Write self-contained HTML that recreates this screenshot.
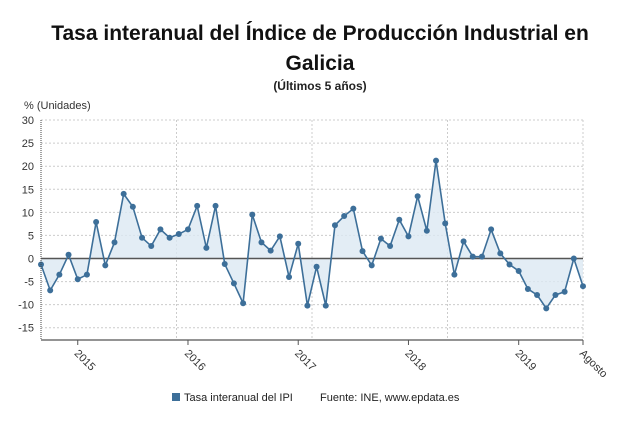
<!DOCTYPE html>
<html><head><meta charset="utf-8">
<style>
body{margin:0;background:#fff;width:640px;height:431px;overflow:hidden;font-family:"Liberation Sans",sans-serif;}
svg text{font-family:"Liberation Sans",sans-serif;}
</style></head>
<body>
<svg width="640" height="431" viewBox="0 0 640 431">
<text x="320" y="40" text-anchor="middle" font-size="21" font-weight="bold" fill="#111">Tasa interanual del Índice de Producción Industrial en</text>
<text x="320" y="70" text-anchor="middle" font-size="21" font-weight="bold" fill="#111">Galicia</text>
<text x="320" y="90" text-anchor="middle" font-size="12" font-weight="bold" fill="#222">(Últimos 5 años)</text>
<text x="24" y="109" font-size="11" fill="#333">% (Unidades)</text>
<g id="grid"></g>
<g id="plot"></g>
<g id="axes"></g>
<rect x="172" y="393" width="8" height="8" fill="#3d6f99"/>
<text x="184" y="401" font-size="11" fill="#222">Tasa interanual del IPI</text>
<text x="320" y="401" font-size="11" fill="#222">Fuente: INE, www.epdata.es</text>
</svg>
<script>
const values=[-1.3,-6.9,-3.5,0.8,-4.5,-3.5,7.9,-1.5,3.5,14.0,11.2,4.5,2.7,6.3,4.5,5.3,6.3,11.4,2.3,11.4,-1.2,-5.4,-9.7,9.5,3.5,1.7,4.8,-4.0,3.2,-10.2,-1.8,-10.2,7.2,9.2,10.8,1.6,-1.5,4.3,2.7,8.4,4.8,13.5,6.0,21.2,7.6,-3.5,3.7,0.4,0.4,6.3,1.1,-1.3,-2.7,-6.6,-7.9,-10.8,-7.9,-7.2,0.0,-6.0];
const yTicks=[30,25,20,15,10,5,0,-5,-10,-15];
const xLabels=["2015","2016","2017","2018","2019","Agosto"];
const xLabelIdx=[4,16,28,40,52,59];
const vGridIdx=[14.75,29.5,44.25,59];
const NS="http://www.w3.org/2000/svg";
const x0=41,x1=583,yTop=120,yBot=340;
const xs=i=>x0+i*(x1-x0)/(values.length-1);
const ys=v=>258.5-v*4.615;
function mk(t,a,p){const e=document.createElementNS(NS,t);for(const k in a)e.setAttribute(k,a[k]);p.appendChild(e);return e;}
const grid=document.getElementById('grid'),plot=document.getElementById('plot'),axes=document.getElementById('axes');
yTicks.forEach(v=>{
 const l=mk('line',{x1:x0,x2:x1,y1:ys(v),y2:ys(v),stroke:'#ccc','stroke-dasharray':'2,2'},grid);
 
 
 const t=mk('text',{x:34,y:ys(v)+4,'text-anchor':'end','font-size':11,fill:'#333'},axes);
 t.textContent=v;
 
 
});
vGridIdx.forEach(i=>{
 const l=mk('line',{x1:xs(i),x2:xs(i),y1:yTop,y2:yBot,stroke:'#ccc','stroke-dasharray':'2,2'},grid);
 
 
});
let d='M'+xs(0)+','+ys(0);
values.forEach((v,i)=>{d+=' L'+xs(i)+','+ys(v);});
d+=' L'+xs(values.length-1)+','+ys(0)+'Z';
const area=mk('path',{d:d,fill:'#dce8f2',opacity:0.8},plot);


const zl=mk('line',{x1:x0,x2:x1,y1:ys(0),y2:ys(0),stroke:'#555','stroke-width':1.5},plot);


const ln=mk('polyline',{points:values.map((v,i)=>xs(i)+','+ys(v)).join(' '),fill:'none',stroke:'#3d6f99','stroke-width':1.6},plot);


values.forEach((v,i)=>{
 const c=mk('circle',{cx:xs(i),cy:ys(v),r:3,fill:'#3d6f99'},plot);
 
 
});
const ya=mk('line',{x1:x0,x2:x0,y1:yTop,y2:yBot,stroke:'#444','stroke-dasharray':'1,1'},axes);


const xa=mk('line',{x1:x0,x2:x1,y1:yBot,y2:yBot,stroke:'#555','stroke-width':1.2},axes);


xLabels.forEach((s,k)=>{
 const x=xs(xLabelIdx[k]);
 const tk=mk('line',{x1:x,x2:x,y1:yBot,y2:yBot+5,stroke:'#555'},axes);
 
 
 const t=mk('text',{x:x-4,y:yBot+14,'font-size':11,fill:'#333',transform:`rotate(45 ${x-4} ${yBot+14})`},axes);
 t.textContent=s;
 
 
});
</script>
</body></html>
